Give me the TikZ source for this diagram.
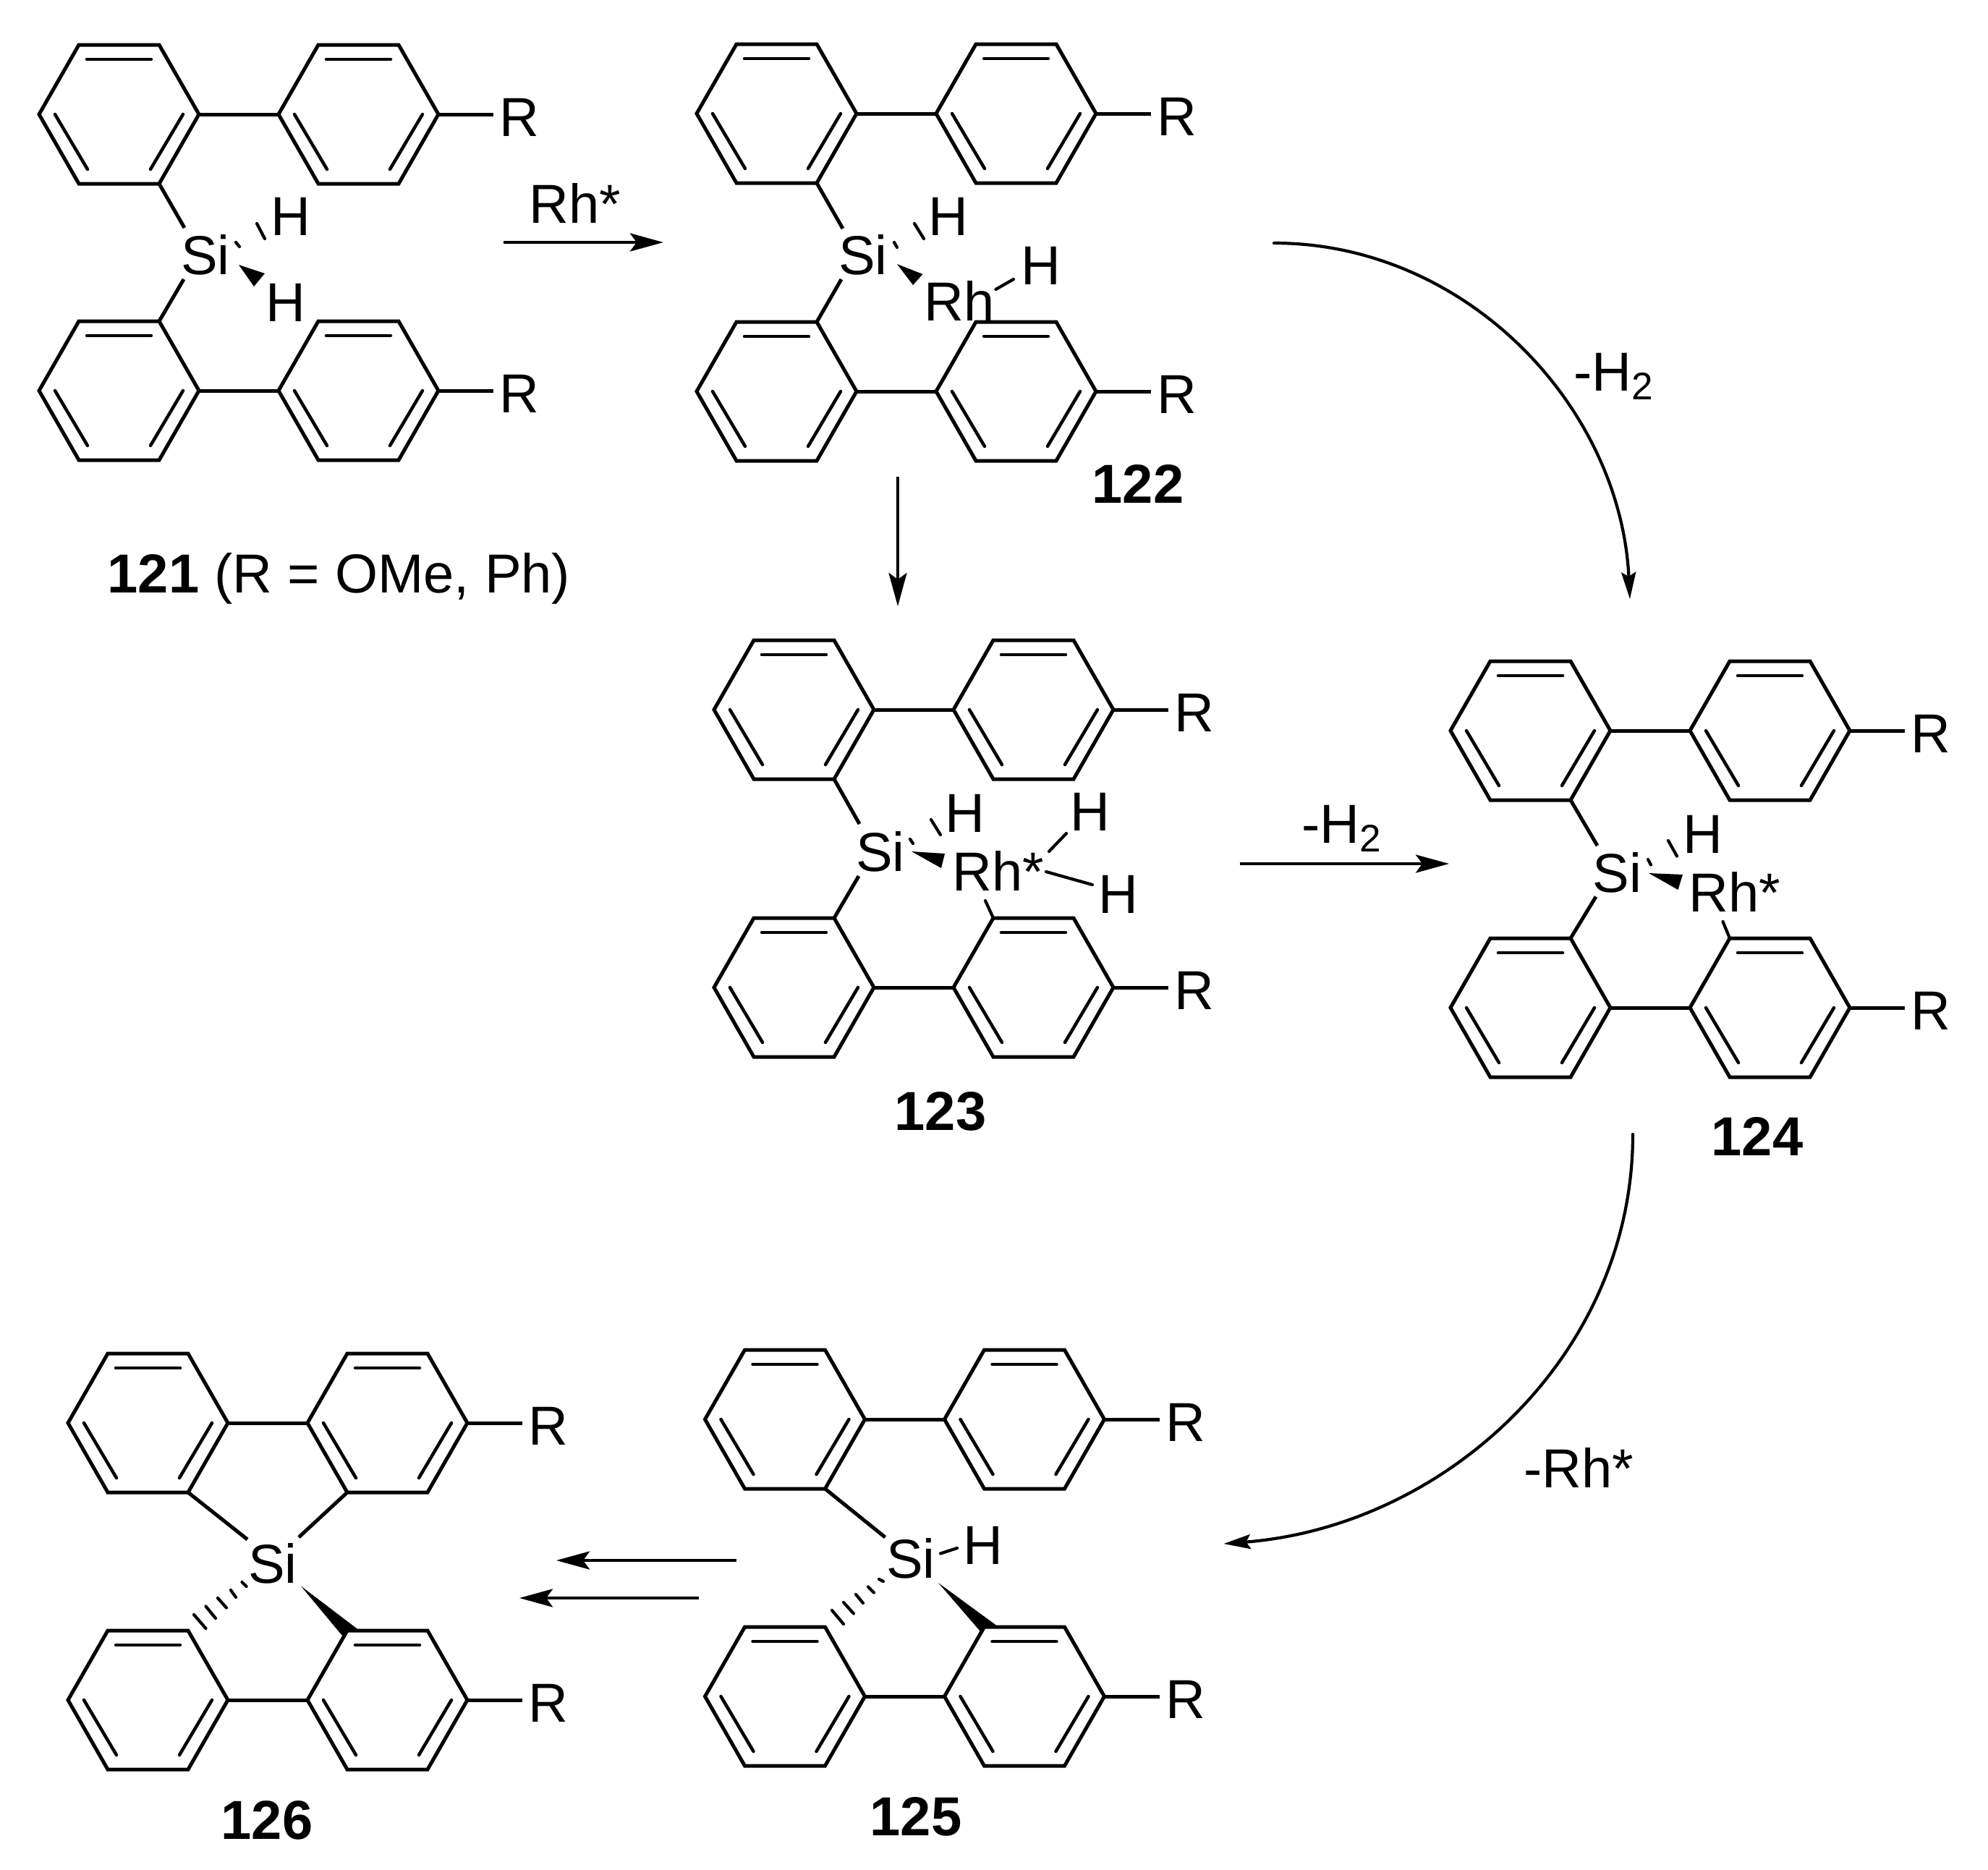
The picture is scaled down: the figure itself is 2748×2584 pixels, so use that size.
\documentclass[tikz,border=0pt]{standalone}
\usepackage{fontspec}
\setmainfont{Liberation Sans}
\usetikzlibrary{arrows.meta}
\tikzset{
  bond/.style={line width=0.05cm,line join=miter,line cap=butt},
  inner/.style={line width=0.045cm,line cap=round},
  stroke/.style={line width=0.042cm,line cap=round},
  wedge/.style={fill=black,draw=none},
  lab/.style={font=\fontsize{21.6}{26}\selectfont,inner sep=0pt,anchor=base},
  cpd/.style={font=\fontsize{21.6}{26}\selectfont\bfseries,inner sep=0pt,anchor=base},
  rxn/.style={line width=0.042cm,-{Stealth[length=0.46cm,width=0.25cm,inset=0.09cm]}},
  curverxn/.style={line width=0.042cm,line cap=round,-{Stealth[length=0.37cm,width=0.2cm,inset=0.06cm]}},
}
% one benzene ring: #1 = left vertex x, #2 = centre y
\newcommand{\benzring}[2]{%
  \begin{scope}[shift={(#1,#2)}]
    \draw[bond] (0,0)--(55,-96)--(166,-96)--(221,0)--(166,96)--(55,96)--cycle;
    \draw[inner] (66,-76)--(155,-76);
    \draw[inner] (22,0)--(67,76);
    \draw[inner] (199,0)--(154,76);
  \end{scope}}
% biphenyl with R: #1 = name, #2 = left vertex x, #3 = centre y
\newcommand{\biph}[3]{%
  \begin{scope}[shift={(#2,#3)}]
    \benzring{0}{0}
    \benzring{331}{0}
    \coordinate (#1tr) at (166,-96);
    \coordinate (#1br) at (166,96);
    \coordinate (#1tq) at (386,-96);
    \coordinate (#1bq) at (386,96);
    \coordinate (#1p) at (221,0);
    \coordinate (#1q) at (331,0);
    \coordinate (#1e) at (552,0);
    \coordinate (#1f) at (628,0);
    \draw[bond] (#1p)--(#1q);
    \draw[bond] (#1e)--(#1f);
    \node[lab] (#1R) at (664,30) {R};
  \end{scope}}
\begin{document}
\begin{tikzpicture}[x=0.01cm,y=-0.01cm]
\useasboundingbox (0,0) rectangle (2748,2584);

% ---------- 121
\biph{aT}{54}{158}
\biph{aB}{54}{540}
\node[lab] (aSi) at (284,379) {Si};
\node[lab] (aH1) at (402,325) {H};
\node[lab] (aH2) at (395,444) {H};
\coordinate (aS1) at (255,315);
\coordinate (aS2) at (254,386);
\draw[bond] (aTbr)--(aS1);
\draw[bond] (aBtr)--(aS2);
\draw[stroke] (326,335)--(331,341);
\draw[stroke] (355,309)--(366,330);
\fill[wedge] (330,366)--(366,378)--(351,396)--cycle;
\node[cpd,anchor=base west] (aLab) at (148,819) {121 \mdseries(R = OMe, Ph)};

% ---------- 122
\biph{bT}{963}{157}
\biph{bB}{963}{541}
\node[lab] (bSi) at (1193,379) {Si};
\node[lab] (bH1) at (1311,325) {H};
\node[lab] (bH2) at (1439,393) {H};
\node[lab] (bRh) at (1326,443) {Rh};
\coordinate (bS1) at (1165,316);
\coordinate (bS2) at (1163,386);
\draw[bond] (bTbr)--(bS1);
\draw[bond] (bBtr)--(bS2);
\draw[stroke] (1236,335)--(1240,342);
\draw[stroke] (1264,309)--(1277,330);
\fill[wedge] (1240,365)--(1275.5,379)--(1262,394)--cycle;
\coordinate (bR1) at (1376.5,400);
\coordinate (bR2) at (1401,386);
\draw[stroke] (bR1)--(bR2);
\node[cpd] (bLab) at (1573,695) {122};

% ---------- 123
\biph{cT}{987}{981}
\biph{cB}{987}{1365}
\node[lab] (cSi) at (1217,1204) {Si};
\node[lab] (cH1) at (1334,1150) {H};
\node[lab] (cH2) at (1507,1148) {H};
\node[lab] (cH3) at (1546,1262) {H};
\node[lab] (cRh) at (1380,1231) {Rh*};
\coordinate (cS1) at (1188,1139);
\coordinate (cS2) at (1187,1211);
\draw[bond] (cTbr)--(cS1);
\draw[bond] (cBtr)--(cS2);
\draw[stroke] (1258,1160)--(1262,1166);
\draw[stroke] (1287,1133)--(1300,1154);
\fill[wedge] (1260,1177)--(1306,1180)--(1301,1200)--cycle;
\draw[stroke] (1450,1177)--(1474,1152);
\draw[stroke] (1446,1205)--(1510,1223);
\coordinate (cR1) at (1362,1245);
\draw[stroke] (cR1)--(cBtq);
\node[cpd] (cLab) at (1300,1562) {123};

% ---------- 124
\biph{dT}{2005}{1010}
\biph{dB}{2005}{1393}
\node[lab] (dSi) at (2235.5,1233) {Si};
\node[lab] (dH1) at (2354,1179) {H};
\node[lab] (dRh) at (2398,1260) {Rh*};
\coordinate (dS1) at (2208,1169);
\coordinate (dS2) at (2206,1239.5);
\draw[bond] (dTbr)--(dS1);
\draw[bond] (dBtr)--(dS2);
\draw[stroke] (2278,1188)--(2282,1195.5);
\draw[stroke] (2306,1162)--(2318,1183.5);
\fill[wedge] (2279,1207)--(2326,1209)--(2319.5,1230)--cycle;
\coordinate (dR1) at (2381.5,1274);
\draw[stroke] (dR1)--(dBtq);
\node[cpd] (dLab) at (2429,1597) {124};

% ---------- 125
\biph{eT}{974.5}{1962}
\biph{eB}{974.5}{2345}
\node[lab] (eSi) at (1259,2181) {Si};
\node[lab] (eH) at (1359,2162) {H};
\coordinate (eS1) at (1223.5,2125);
\draw[bond] (eTbr)--(eS1);
\draw[stroke] (1300,2147.5)--(1323,2140);
\fill[wedge] (1297,2188)--(1377.5,2247)--(1362,2249)--(1358,2258.5)--cycle;
\draw[stroke] (1215,2183)--(1221,2186);
\draw[stroke] (1200,2193.5)--(1208,2201.6);
\draw[stroke] (1183,2204)--(1193,2216);
\draw[stroke] (1166,2215)--(1180,2230.5);
\draw[stroke] (1150,2226)--(1166,2245);
\node[cpd] (eLab) at (1266,2537.5) {125};

% ---------- 126
\biph{fT}{94}{1967}
\biph{fB}{94}{2350}
\node[lab] (fSi) at (377,2188) {Si};
\coordinate (fS1) at (342,2128);
\coordinate (fS2) at (413,2125);
\draw[bond] (fTbr)--(fS1);
\draw[bond] (fTbq)--(fS2);
\fill[wedge] (416,2192.5)--(497,2254)--(481,2255)--(473,2261)--cycle;
\draw[stroke] (334.5,2187)--(340.6,2193);
\draw[stroke] (319,2198)--(326,2208);
\draw[stroke] (301,2209)--(313,2222.5);
\draw[stroke] (284.5,2220.5)--(298,2237);
\draw[stroke] (268,2232)--(284.5,2251);
\node[cpd] (fLab) at (369,2542) {126};

% ---------- arrows
\coordinate (r1s) at (696,335);  \coordinate (r1e) at (917,335);
\draw[rxn] (r1s)--(r1e);
\node[lab] (r1t) at (795,308) {Rh*};

\coordinate (r2s) at (1241,659); \coordinate (r2e) at (1241,838);
\draw[rxn] (r2s)--(r2e);

\coordinate (r3s) at (1714,1194); \coordinate (r3e) at (2003,1194);
\draw[rxn] (r3s)--(r3e);
\node[lab] (r3t) at (1855,1165) {-H\textsubscript{2}};

\coordinate (r4s) at (1761,336); \coordinate (r4e) at (2253,828);
\draw[curverxn] (r4s) .. controls (2027,336) and (2240,562) .. (r4e);
\node[lab] (r4t) at (2231,540) {-H\textsubscript{2}};

\coordinate (r5s) at (2257,1568); \coordinate (r5e) at (1691.5,2134);
\draw[curverxn] (r5s) .. controls (2257,1874) and (1997.5,2110) .. (r5e);
\node[lab] (r5t) at (2182,2056) {-Rh*};

\coordinate (r6s) at (1018,2157); \coordinate (r6e) at (769,2157);
\draw[rxn] (r6s)--(r6e);
\coordinate (r7s) at (966,2209); \coordinate (r7e) at (718,2209);
\draw[rxn] (r7s)--(r7e);
\end{tikzpicture}
\end{document}
